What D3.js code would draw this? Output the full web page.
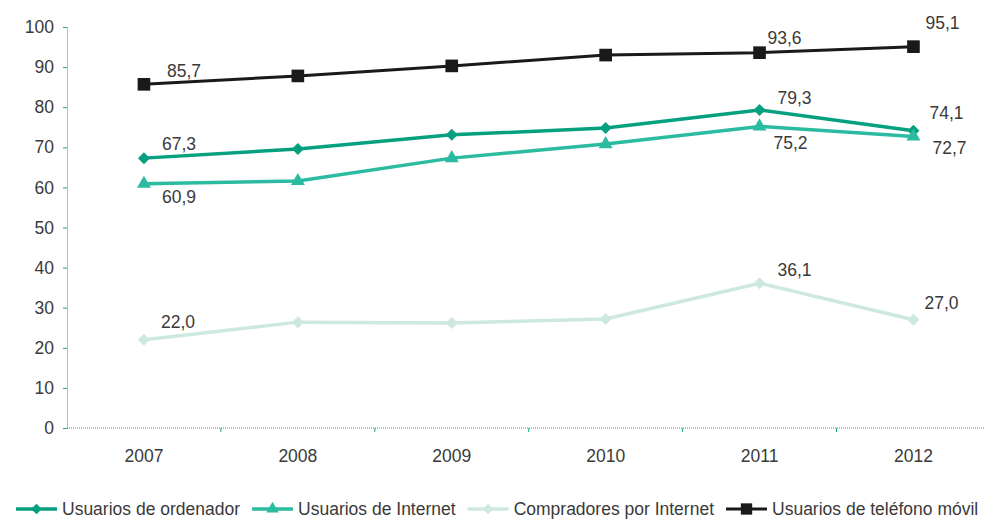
<!DOCTYPE html>
<html>
<head>
<meta charset="utf-8">
<script src="https://cdn.jsdelivr.net/npm/d3@7"></script>
<style>
  body { margin: 0; background: #fff; }
  text { font-family: "Liberation Sans", Arial, sans-serif; fill: #3a3a3a; }
</style>
</head>
<body>
<svg id="chart" width="984" height="519"></svg>
<script>
const years = ["2007", "2008", "2009", "2010", "2011", "2012"];
const yTicks = [0, 10, 20, 30, 40, 50, 60, 70, 80, 90, 100];

const seriesNames = ["Usuarios de ordenador", "Usuarios de Internet", "Compradores por Internet", "Usuarios de teléfono móvil"];
const ordenador = [67.3, 69.6, 73.1, 74.8, 79.3, 74.1];
const internet = [60.9, 61.6, 67.3, 70.8, 75.2, 72.7];
const compradores = [22.0, 26.4, 26.2, 27.2, 36.1, 27.0];
const movil = [85.7, 87.8, 90.3, 93.0, 93.6, 95.1];

const svg = d3.select("#chart");
const width = +svg.attr("width"), height = +svg.attr("height");

const x = d3.scaleBand().domain(years).range([67, 67 + 6 * 153.9]);
const y = d3.scaleLinear().domain([0, 100]).range([428, 27]);
const cx = d => x(d) + x.bandwidth() / 2;

const axisColor = "#1aa88a";

// y axis
const yAxis = svg.append("g")
  .attr("transform", "translate(67,0)")
  .call(d3.axisLeft(y).tickValues(yTicks).tickSize(4).tickSizeOuter(0).tickPadding(9));
yAxis.select(".domain").attr("stroke", axisColor).attr("stroke-dasharray", "1,1");
yAxis.selectAll(".tick line").attr("stroke", axisColor);
yAxis.selectAll(".tick text").style("font-size", "17.5px").attr("fill", "#3a3a3a");

// x axis
const xAxis = svg.append("g")
  .attr("transform", "translate(0,428)")
  .call(d3.axisBottom(x).tickSize(0).tickPadding(22));
xAxis.select(".domain").remove();
xAxis.selectAll(".tick text").style("font-size", "17.5px").attr("fill", "#3a3a3a");
xAxis.append("line")
  .attr("x1", 67).attr("x2", width)
  .attr("stroke", axisColor).attr("stroke-dasharray", "1,1");
xAxis.selectAll(".bound")
  .data(years.slice(1))
  .enter().append("line")
  .attr("x1", d => x(d)).attr("x2", d => x(d))
  .attr("y1", 0).attr("y2", 4)
  .attr("stroke", axisColor);

// series (diamond = square turned 45deg)
const series = [
  { name: seriesNames[0], values: ordenador, color: "#05a07f", marker: d3.symbolSquare, rot: 45, size: 72, width: 3.5,
    labels: [[0, 18, -8], [4, 18, -6], [5, 16, -12]] },
  { name: seriesNames[1], values: internet, color: "#2bbba0", marker: d3.symbolTriangle, rot: 0, size: 85, width: 3.5,
    labels: [[0, 18, 19], [4, 14, 23], [5, 19, 18]] },
  { name: seriesNames[2], values: compradores, color: "#cde8df", marker: d3.symbolSquare, rot: 45, size: 72, width: 3.5,
    labels: [[0, 17, -12], [4, 18, -7], [5, 11, -11]] },
  { name: seriesNames[3], values: movil, color: "#1a1a1a", marker: d3.symbolSquare, rot: 0, size: 160, width: 3,
    labels: [[0, 23, -7], [4, 8, -9], [5, 12, -18]] }
];

const line = d3.line().x((d, i) => cx(years[i])).y(d => y(d));
const fmt = v => v.toFixed(1).replace(".", ",");

series.forEach(s => {
  const g = svg.append("g");
  g.append("path")
    .attr("d", line(s.values))
    .attr("fill", "none")
    .attr("stroke", s.color)
    .attr("stroke-width", s.width);
  g.selectAll(".pt")
    .data(s.values)
    .enter().append("path")
    .attr("d", d3.symbol().type(s.marker).size(s.size))
    .attr("transform", (d, i) => `translate(${cx(years[i])},${y(d)}) rotate(${s.rot})`)
    .attr("fill", s.color);
  g.selectAll(".lbl")
    .data(s.labels)
    .enter().append("text")
    .attr("x", d => cx(years[d[0]]) + d[1])
    .attr("y", d => y(s.values[d[0]]) + d[2])
    .style("font-size", "17.5px")
    .text(d => fmt(s.values[d[0]]));
});

// legend
const legend = svg.append("g").attr("transform", "translate(0,509)");
let lx = 16;
series.forEach(s => {
  const item = legend.append("g").attr("transform", `translate(${lx},0)`);
  item.append("line")
    .attr("x1", 0).attr("x2", 41)
    .attr("stroke", s.color).attr("stroke-width", s.width);
  item.append("path")
    .attr("d", d3.symbol().type(s.marker).size(s.size * 0.8))
    .attr("transform", `translate(20.5,0) rotate(${s.rot})`)
    .attr("fill", s.color);
  const t = item.append("text")
    .attr("x", 46).attr("y", 6)
    .style("font-size", "17.5px")
    .text(s.name);
  lx += 46 + t.node().getComputedTextLength() + 12;
});
</script>
</body>
</html>
